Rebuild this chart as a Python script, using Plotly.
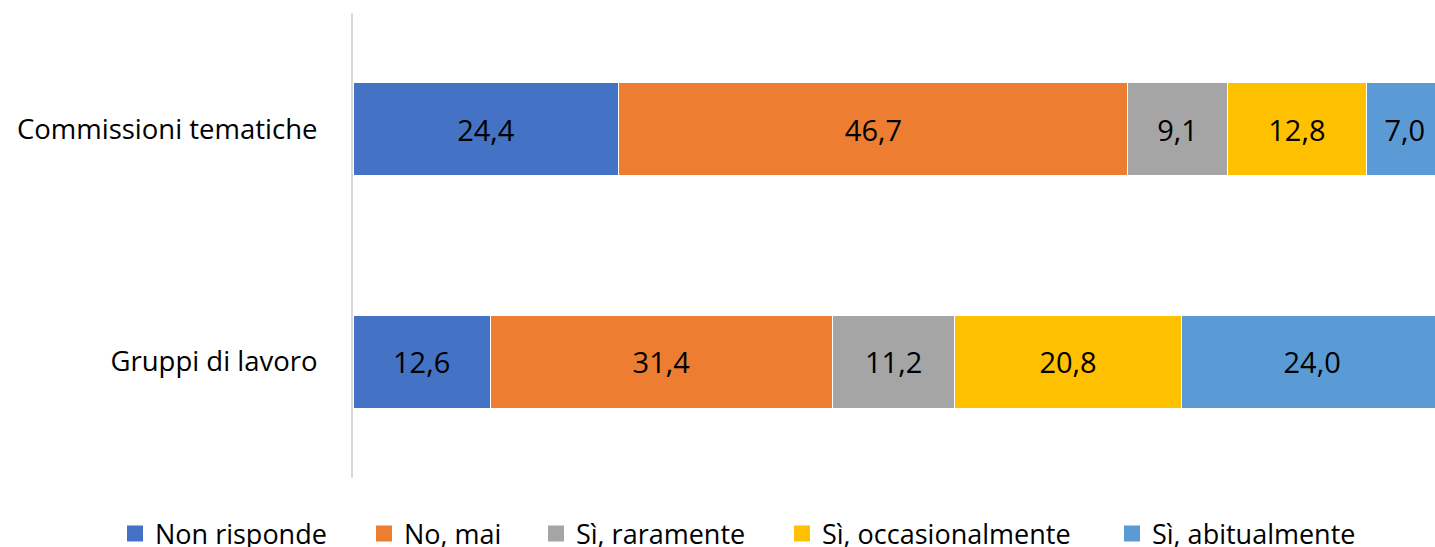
import plotly.graph_objects as go

# categories bottom -> top
categories = ["Gruppi di lavoro", "Commissioni tematiche"]

series_names = ["Non risponde", "No, mai", "Sì, raramente", "Sì, occasionalmente", "Sì, abitualmente"]
non_risponde = [12.6, 24.4]
no_mai = [31.4, 46.7]
si_raramente = [11.2, 9.1]
si_occasionalmente = [20.8, 12.8]
si_abitualmente = [24.0, 7.0]

colors = ["#4472C4", "#ED7D31", "#A5A5A5", "#FFC000", "#5B9BD5"]
FONT = "Open Sans"

# plot area in pixels (used to place the separate legend entries)
L, R, T, B = 353, 0, 13, 69
PW = 1435 - L - R
legend_marker_px = [135, 384, 556, 802, 1132]

fig = go.Figure()
all_vals = [non_risponde, no_mai, si_raramente, si_occasionalmente, si_abitualmente]
for i, (name, vals, col) in enumerate(zip(series_names, all_vals, colors)):
    fig.add_trace(go.Bar(
        y=categories, x=vals, name=name, orientation="h",
        marker=dict(color=col, line=dict(color="white", width=1)),
        text=[f"{v:.1f}".replace(".", ",") for v in vals],
        textposition="inside", insidetextanchor="middle",
        textfont=dict(size=29, color="black", family=FONT),
        constraintext="none",
        width=0.4, showlegend=False,
    ))
    # legend-only marker, each in its own legend so spacing can follow the original
    lg = "legend" if i == 0 else f"legend{i + 1}"
    fig.add_trace(go.Scatter(
        x=[None], y=[None], mode="markers", name=name, legend=lg,
        marker=dict(symbol="square", size=16, color=col),
        showlegend=True, hoverinfo="skip",
    ))

legend_common = dict(
    orientation="h", xanchor="left", yref="container", y=0.024, yanchor="middle",
    font=dict(size=27, family=FONT, color="black"), bgcolor="rgba(0,0,0,0)",
    borderwidth=0,
)
for i, px_ in enumerate(legend_marker_px):
    key = "legend" if i == 0 else f"legend{i + 1}"
    fig.update_layout({key: dict(legend_common, x=(px_ - 20 - L) / PW)})

fig.update_layout(
    barmode="stack",
    width=1435, height=547,
    margin=dict(l=L, r=R, t=T, b=B, autoexpand=False),
    paper_bgcolor="white", plot_bgcolor="white",
    font=dict(family=FONT, size=27, color="black"),
    xaxis=dict(range=[0, 99.27], showgrid=False, showticklabels=False, zeroline=False,
               showline=False, fixedrange=True),
    yaxis=dict(range=[-0.5, 1.5], showgrid=False, showline=True, linecolor="#D9D9D9",
               linewidth=2, ticks="", ticklabelstandoff=28, automargin=False,
               tickfont=dict(size=27.5, family=FONT, color="black")),
)

# page default body margin would shift the figure by 8px
fig.write_html("out.html", config={"displayModeBar": False},
               post_script="document.body.style.margin='0';document.body.style.overflow='hidden';")
